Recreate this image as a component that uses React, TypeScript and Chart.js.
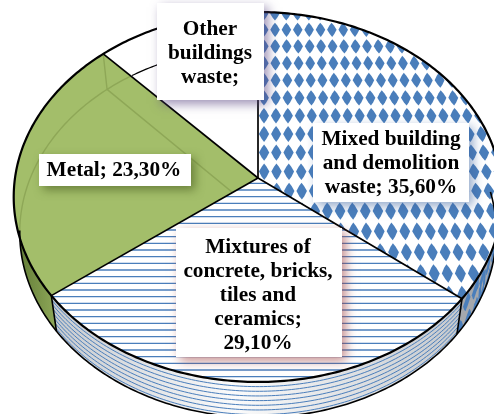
import React, { useEffect, useRef } from "react";
import { Chart, registerables } from "chart.js";

Chart.register(...registerables);

const categories = [
  "Mixed building and demolition waste",
  "Mixtures of concrete, bricks, tiles and ceramics",
  "Metal",
  "Other buildings waste",
];
const shares = [35.6, 29.1, 23.3, 12.0];
const sliceColors = ["#ffffff", "#ffffff", "#a3be6a", "#ffffff"];

const labelLines = [
  ["Mixed building", "and demolition", "waste; 35,60%"],
  ["Mixtures of", "concrete, bricks,", "tiles and", "ceramics;", "29,10%"],
  ["Metal; 23,30%"],
  ["Other", "buildings", "waste;"],
];
const labelBoxes = [
  { x: 313, y: 123, w: 156, h: 79, cx: 391, top: 139, shadow: "rgba(60,100,160,0.55)" },
  { x: 176, y: 228, w: 166, h: 129, cx: 258, top: 247, shadow: "rgba(160,70,70,0.6)" },
  { x: 39, y: 154, w: 152, h: 32, cx: 114, top: 170, shadow: "rgba(70,90,30,0.6)" },
  { x: 157, y: 3, w: 107, h: 97, cx: 210, top: 29, shadow: "rgba(90,70,130,0.6)" },
];

const BLUE = "#4a7ebb";

// Perspective projection of the pie disc; t = 0 is the top face, t = 1 the bottom face.
const CX = 258;
const TILT = 0.1027;
const project = (t: number, u: number, v: number): [number, number] => {
  const w = 1 - TILT * v;
  const b = 243 - 6 * t;
  const a = 183;
  const cy = 178 + 35.5 * t;
  return [CX + (b * u) / w, cy + (a * v) / w];
};
const rim = (t: number, angle: number) => project(t, Math.cos(angle), Math.sin(angle));

function rimPoints(t: number, start: number, end: number) {
  const pts: [number, number][] = [];
  const n = Math.max(2, Math.ceil(Math.abs(end - start) / 0.015));
  for (let i = 0; i <= n; i++) pts.push(rim(t, start + ((end - start) * i) / n));
  return pts;
}

function trace(ctx: CanvasRenderingContext2D, pts: [number, number][], move = true) {
  pts.forEach(([x, y], i) => (i === 0 && move ? ctx.moveTo(x, y) : ctx.lineTo(x, y)));
}

function wedgePath(ctx: CanvasRenderingContext2D, t: number, start: number, end: number) {
  ctx.beginPath();
  const [x, y] = project(t, 0, 0);
  ctx.moveTo(x, y);
  trace(ctx, rimPoints(t, start, end), false);
  ctx.closePath();
}

function sidePath(ctx: CanvasRenderingContext2D, start: number, end: number) {
  ctx.beginPath();
  trace(ctx, rimPoints(0, start, end));
  trace(ctx, rimPoints(1, end, start), false);
  ctx.closePath();
}

// Diamond texture laid out in disc coordinates so it follows the perspective.
function fillDiamonds(
  ctx: CanvasRenderingContext2D,
  color: string,
  map: (u: number, v: number) => [number, number],
  du: number,
  dv: number,
  rowPhase: number,
  stagger: boolean,
) {
  ctx.fillStyle = color;
  for (let row = -12; row <= 12; row++) {
    const v = (row + rowPhase) * dv;
    for (let col = -24; col <= 24; col++) {
      const u = (col + (stagger && row % 2 === 0 ? 0 : 0.5)) * du;
      ctx.beginPath();
      const p = [
        map(u - du * 0.42, v),
        map(u - du * 0.2, v - dv * 0.26),
        map(u, v - dv * 0.43),
        map(u + du * 0.2, v - dv * 0.26),
        map(u + du * 0.42, v),
        map(u + du * 0.2, v + dv * 0.26),
        map(u, v + dv * 0.43),
        map(u - du * 0.2, v + dv * 0.26),
      ];
      ctx.moveTo(p[0][0], p[0][1]);
      for (let i = 1; i < p.length; i++) ctx.lineTo(p[i][0], p[i][1]);
      ctx.closePath();
      ctx.fill();
    }
  }
}

const extrudedPie = {
  id: "extrudedPie",
  beforeDatasetDraw(chart: Chart) {
    const ctx = chart.ctx;
    const arcs = chart.getDatasetMeta(0).data as any[];
    const [mixed, mixtures, metal, other] = arcs;
    ctx.save();
    ctx.lineJoin = "round";

    // Outer wall: metal section
    sidePath(ctx, metal.startAngle, metal.endAngle);
    const metalWall = ctx.createLinearGradient(14, 0, 60, 0);
    metalWall.addColorStop(0, "#5d7733");
    metalWall.addColorStop(1, "#93ac5c");
    ctx.fillStyle = metalWall;
    ctx.fill();

    // Outer wall: striped section
    sidePath(ctx, mixtures.startAngle, mixtures.endAngle);
    const stripedWall = ctx.createLinearGradient(50, 0, 460, 0);
    stripedWall.addColorStop(0, "#c6c9cd");
    stripedWall.addColorStop(0.45, "#fbfbfb");
    stripedWall.addColorStop(1, "#c6c9cd");
    ctx.fillStyle = stripedWall;
    ctx.fill();
    ctx.save();
    ctx.clip();
    ctx.strokeStyle = BLUE;
    ctx.lineWidth = 1;
    for (let i = 1; i <= 7; i++) {
      ctx.beginPath();
      trace(ctx, rimPoints(i / 7.6, mixtures.startAngle, mixtures.endAngle));
      ctx.stroke();
    }
    ctx.restore();

    // Outer wall: diamond section
    sidePath(ctx, mixed.startAngle, mixed.endAngle);
    ctx.fillStyle = "#a5a8ad";
    ctx.fill();
    ctx.save();
    ctx.clip();
    const wallMap = (a: number, d: number) => {
      const angle = Math.PI / 2 - a;
      return project(d, Math.cos(angle), Math.sin(angle));
    };
    fillDiamonds(ctx, BLUE, wallMap, 0.068, 0.62, 0.5, true);
    ctx.restore();

    // Top faces, each filled from its own arc element
    arcs.forEach((arc: any) => {
      wedgePath(ctx, 0, arc.startAngle, arc.endAngle);
      ctx.fillStyle = arc.options.backgroundColor;
      ctx.fill();
    });

    // Bottom rim showing through the unfilled section
    ctx.strokeStyle = "#000";
    ctx.lineWidth = 1.2;
    ctx.beginPath();
    trace(ctx, rimPoints(1, other.startAngle + 0.14, other.endAngle));
    ctx.stroke();

    // Diamond texture on the largest section
    ctx.save();
    wedgePath(ctx, 0, mixed.startAngle, mixed.endAngle);
    ctx.clip();
    fillDiamonds(ctx, BLUE, (u, v) => project(0, u, v), 0.051, 0.106, -0.33, false);
    ctx.restore();

    // Horizontal stripes
    ctx.save();
    wedgePath(ctx, 0, mixtures.startAngle, mixtures.endAngle);
    ctx.clip();
    ctx.strokeStyle = BLUE;
    ctx.lineWidth = 1.4;
    for (let k = 0; k < 40; k++) {
      const y = 170 + (k * 20) / 3;
      ctx.beginPath();
      ctx.moveTo(0, y);
      ctx.lineTo(494, y);
      ctx.stroke();
    }
    ctx.restore();

    // Back edges seen faintly through the metal section
    ctx.save();
    wedgePath(ctx, 0, metal.startAngle, metal.endAngle);
    ctx.clip();
    ctx.strokeStyle = "#8ea757";
    ctx.lineWidth = 1.4;
    ctx.beginPath();
    trace(ctx, rimPoints(1, metal.startAngle, other.endAngle));
    const [ex, ey] = rim(1, metal.endAngle);
    const [tx, ty] = rim(0, metal.endAngle);
    const [lx, ly] = project(1, 0, 0);
    ctx.moveTo(tx, ty);
    ctx.lineTo(ex, ey);
    ctx.lineTo(lx, ly);
    ctx.stroke();
    ctx.restore();

    // Section borders
    ctx.strokeStyle = "#000";
    ctx.lineWidth = 1.7;
    arcs.forEach((arc: any) => {
      const [ox, oy] = rim(0, arc.startAngle);
      const [cx, cy] = project(0, 0, 0);
      ctx.beginPath();
      ctx.moveTo(cx, cy);
      ctx.lineTo(ox, oy);
      ctx.stroke();
    });
    ctx.lineWidth = 2.2;
    ctx.beginPath();
    trace(ctx, rimPoints(0, -Math.PI / 2, 1.5 * Math.PI));
    ctx.stroke();

    // Lower outline and wall seams, on the visible front half only
    ctx.lineWidth = 1.6;
    ctx.beginPath();
    trace(ctx, rimPoints(1, -0.12, 3.05));
    ctx.stroke();
    [mixed.endAngle, mixtures.endAngle].forEach((a: number) => {
      const [ax, ay] = rim(0, a);
      const [bx, by] = rim(1, a);
      ctx.beginPath();
      ctx.moveTo(ax, ay);
      ctx.lineTo(bx, by);
      ctx.stroke();
    });
    ctx.restore();
    return false;
  },
  afterDatasetsDraw(chart: Chart) {
    const ctx = chart.ctx;
    labelBoxes.forEach((box, i) => {
      ctx.save();
      ctx.shadowColor = box.shadow;
      ctx.shadowBlur = 10;
      ctx.shadowOffsetX = 4;
      ctx.shadowOffsetY = 4;
      ctx.fillStyle = "#fff";
      ctx.fillRect(box.x, box.y, box.w, box.h);
      ctx.restore();
      ctx.save();
      ctx.fillStyle = "#000";
      ctx.font = 'bold 21.3px "Liberation Serif"';
      ctx.textAlign = "center";
      ctx.textBaseline = "middle";
      labelLines[i].forEach((line, n) => ctx.fillText(line, box.cx, box.top + n * 24));
      ctx.restore();
    });
  },
};

export default function App() {
  const ref = useRef<HTMLCanvasElement>(null);
  useEffect(() => {
    document.body.style.margin = "0";
    document.body.style.background = "#fff";
    const chart = new Chart(ref.current!, {
      type: "pie",
      data: {
        labels: categories,
        datasets: [{ data: shares, backgroundColor: sliceColors }],
      },
      options: {
        responsive: false,
        animation: false,
        plugins: { legend: { display: false }, tooltip: { enabled: false } },
      },
      plugins: [extrudedPie],
    });
    return () => chart.destroy();
  }, []);
  return (
    <canvas
      ref={ref}
      width={494}
      height={414}
      style={{ display: "block", width: 494, height: 414 }}
    />
  );
}
